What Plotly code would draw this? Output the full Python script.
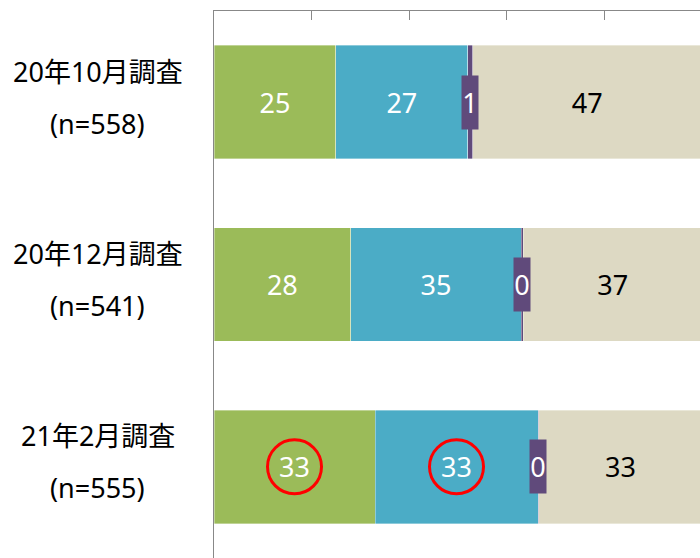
import plotly.graph_objects as go

categories = ["20年10月調査", "20年12月調査", "21年2月調査"]
sample_sizes = ["(n=558)", "(n=541)", "(n=555)"]
green_vals = [25.0, 28.0, 33.0]
blue_vals = [27.0, 35.0, 33.4]
purple_vals = [1.0, 0.4, 0.2]
beige_vals = [47.0, 36.6, 33.4]
purple_labels = ["1", "0", "0"]
circled = [(2, "green"), (2, "blue")]

colors = {"green": "#9BBB59", "blue": "#4BACC6", "purple": "#604A7B", "beige": "#DDD9C3"}
FONT = "Noto Sans, Noto Sans CJK JP, sans-serif"
FS = 27

ypos = list(range(len(categories)))
fig = go.Figure()
series = [("green", green_vals, "white"), ("blue", blue_vals, "white"),
          ("purple", purple_vals, "white"), ("beige", beige_vals, "black")]
for key, vals, tc in series:
    fig.add_trace(go.Bar(
        y=ypos, x=vals, orientation="h", name=key,
        marker=dict(color=colors[key], line=dict(color="rgba(255,255,255,0.6)", width=0.6)),
        text=[f"{v:.0f}" for v in vals] if key != "purple" else None,
        textposition="inside" if key != "purple" else "none",
        insidetextanchor="middle", textangle=0,
        textfont=dict(color=tc, size=FS, family=FONT),
        hoverinfo="skip",
    ))

# purple label boxes
for i in ypos:
    cx = green_vals[i] + blue_vals[i] + purple_vals[i] / 2
    fig.add_annotation(x=cx, y=i, xref="x", yref="y", text=purple_labels[i],
                       showarrow=False, bgcolor=colors["purple"], width=16, height=53,
                       borderpad=0, font=dict(color="white", size=FS, family=FONT))

# category labels
for i in ypos:
    fig.add_annotation(x=-0.2387, y=i, xref="paper", yref="y", text=categories[i],
                       showarrow=False, xanchor="center", yshift=31,
                       font=dict(color="black", size=FS, family=FONT))
    fig.add_annotation(x=-0.2387, y=i, xref="paper", yref="y", text=sample_sizes[i],
                       showarrow=False, xanchor="center", yshift=-21,
                       font=dict(color="black", size=FS, family=FONT))

# red circles
for i, key in circled:
    if key == "green":
        cx = green_vals[i] / 2
    else:
        cx = green_vals[i] + blue_vals[i] / 2
    fig.add_shape(type="circle", xref="x", yref="y", xsizemode="pixel", ysizemode="pixel",
                  xanchor=cx, yanchor=i, x0=-27, x1=27, y0=-27, y1=27,
                  line=dict(color="red", width=3))

fig.update_layout(
    barmode="stack", bargap=0.377, showlegend=False,
    width=700, height=558, margin=dict(l=214, r=0, t=11, b=0),
    paper_bgcolor="white", plot_bgcolor="white",
    xaxis=dict(range=[0, 99.6], side="top", showline=True, linecolor="#888888", linewidth=1,
               ticks="inside", ticklen=9, tickcolor="#888888", dtick=20, tick0=0,
               showticklabels=False, showgrid=False, zeroline=False, fixedrange=True),
    yaxis=dict(range=[2.5, -0.5], showline=True, linecolor="#888888", linewidth=1,
               showticklabels=False, ticks="", showgrid=False, zeroline=False),
)
fig.write_html("out.html")
